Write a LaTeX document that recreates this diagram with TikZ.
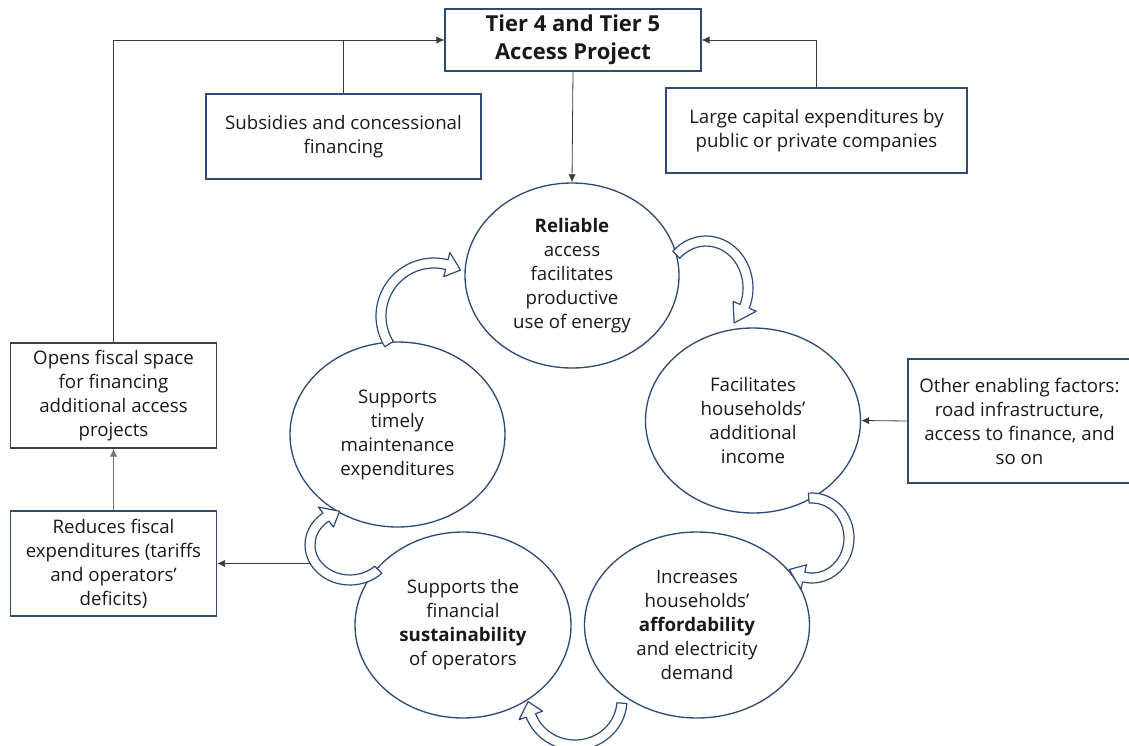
\documentclass[tikz,border=0pt]{standalone}
\usepackage{fontspec}
\setmainfont{Open Sans}
\usepackage{tikz}
\usepackage{xcolor}
\usetikzlibrary{arrows.meta,shapes.geometric}

\definecolor{ringblue}{HTML}{2F4A75}
\definecolor{framegray}{HTML}{404040}
\definecolor{wiregray}{HTML}{3A3A3A}

\tikzset{
    box/.style={draw=ringblue, line width=0.9pt, align=center, inner sep=0pt, text=black!90, font=\fontsize{14}{18}\selectfont},
    stage/.style={ellipse, draw=ringblue, line width=1pt, align=center, inner sep=0pt, text=black!90, font=\fontsize{14}{18}\selectfont},
    link/.style={-{Latex[length=6pt,width=5.5pt]}, line width=0.6pt, draw=wiregray},
    wire/.style={line width=0.6pt, draw=wiregray},
    ringarrow/.style={draw=ringblue, fill=white, line width=0.9pt, line join=round}
}

\newcommand{\bentarrow}[7]{%
    \pgfmathsetmacro{\headat}{#6-#7}%
    \pgfmathsetmacro{\rxo}{#3+5}\pgfmathsetmacro{\ryo}{#4+5}%
    \pgfmathsetmacro{\rxi}{#3-5}\pgfmathsetmacro{\ryi}{#4-5}%
    \pgfmathsetmacro{\rxh}{#3+12.5}\pgfmathsetmacro{\ryh}{#4+12.5}%
    \pgfmathsetmacro{\rxl}{#3-12.5}\pgfmathsetmacro{\ryl}{#4-12.5}%
    \filldraw[ringarrow, shift={(#1,#2)}] (#5:{\rxo} and {\ryo})
        arc[start angle=#5, end angle=\headat, x radius=\rxo, y radius=\ryo]
        -- (\headat:{\rxh} and {\ryh}) -- (#6:{#3} and {#4}) -- (\headat:{\rxl} and {\ryl}) -- (\headat:{\rxi} and {\ryi})
        arc[start angle=\headat, end angle=#5, x radius=\rxi, y radius=\ryi] -- cycle;%
}

\begin{document}
\begin{tikzpicture}[x=0.75pt,y=-0.75pt]
                \useasboundingbox (0,0) rectangle (1129,746);
                \node[box, minimum width=192pt, minimum height=46.5pt, font=\fontsize{16.5}{21}\selectfont\bfseries] (tier) at (573,40) {Tier 4 and Tier 5\\Access Project};
                \node[box, minimum width=206.25pt, minimum height=63.75pt] (subsid) at (343.5,136.5) {Subsidies and concessional\\financing};
                \node[box, minimum width=225.75pt, minimum height=63.75pt] (capex) at (816.5,130.5) {Large capital expenditures by\\public or private companies};
                \node[box, draw=framegray, minimum width=154.5pt, minimum height=78.75pt] (opens) at (113.5,395.5) {Opens fiscal space\\for financing\\additional access\\projects};
                \node[box, minimum width=154.5pt, minimum height=78.75pt] (reduce) at (113.5,563.5) {Reduces fiscal\\expenditures (tariffs\\and operators'\\deficits)};
                \node[box, minimum width=167.25pt, minimum height=93pt] (other) at (1019.5,421) {Other enabling factors:\\road infrastructure,\\access to finance, and\\so on};
                \node[stage, minimum width=160.5pt, minimum height=138.75pt] (rel) at (572,275.5) {\textbf{Reliable}\\access\\facilitates\\productive\\use of energy};
                \node[stage, minimum width=161.25pt, minimum height=138.75pt] (inc) at (753,420.5) {Facilitates\\households'\\additional\\income};
                \node[stage, minimum width=168.75pt, minimum height=139.5pt] (aff) at (697,625) {Increases\\households'\\\textbf{affordability}\\and electricity\\demand};
                \node[stage, minimum width=162pt, minimum height=139.5pt] (sus) at (463,625) {Supports the\\financial\\\textbf{sustainability}\\of operators};
                \node[stage, minimum width=161.25pt, minimum height=138.75pt] (mnt) at (397.5,434.5) {Supports\\timely\\maintenance\\expenditures};
                \coordinate (tap) at (311,563.5);
                \draw[link] (opens.north) |- (tier.west);
                \draw[wire] (subsid.north) -- (subsid.north |- tier.west);
                \draw[link] (capex.north) |- (tier.east);
                \draw[link] (tier.south) -- (rel.north);
                \draw[link, draw=black!55] (reduce.north) -- (opens.south);
                \draw[link] (tap) -- (reduce.east);
                \draw[link] (other.west) -- (inc.east);
                \bentarrow{706}{288}{42}{47}{-135}{48}{25}
                \bentarrow{812}{538}{37}{40}{-95}{128}{25}
                \bentarrow{575}{700}{47}{45}{4}{178}{18}
                \bentarrow{350}{545}{40}{35}{45}{255}{22}
                \bentarrow{434}{316}{53}{53}{148}{300}{16}
\end{tikzpicture}
\end{document}
